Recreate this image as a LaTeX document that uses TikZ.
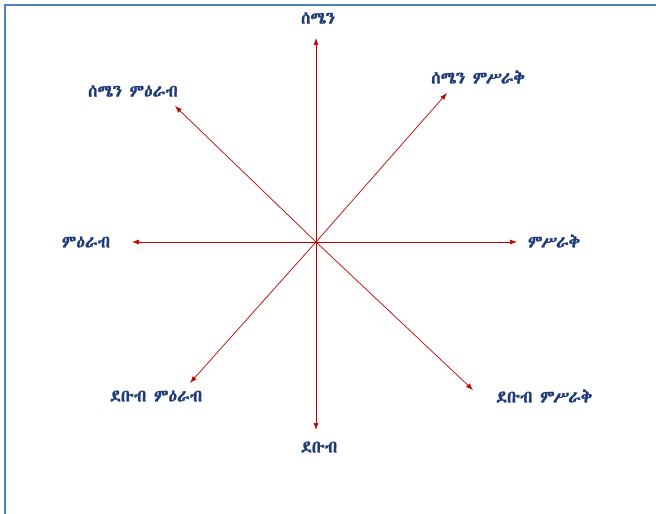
\documentclass[tikz,border=0pt]{standalone}
\usepackage{fontspec}
\IfFontExistsTF{Abyssinica SIL}
  {\newfontfamily\ethfont{Abyssinica SIL}[FakeBold=1.3]}
  {\IfFontExistsTF{FreeSerif}
    {\newfontfamily\ethfont{FreeSerif}[FakeBold=1.3]}
    {\IfFontExistsTF{Noto Sans Ethiopic}
      {\newfontfamily\ethfont{Noto Sans Ethiopic}[FakeBold=1.3]}
      {\newfontfamily\ethfont{DejaVu Sans}}}}
\usetikzlibrary{positioning,arrows.meta}
\definecolor{dirred}{HTML}{C00000}
\definecolor{labblue}{HTML}{1F3A78}
\definecolor{frameblue}{HTML}{4F81BD}

\begin{document}
\begin{tikzpicture}[
  x=1pt, y=-1pt,
  lab/.style={font=\ethfont\fontsize{17}{19}\selectfont, text=labblue, inner sep=1pt},
  arr/.style={-{Latex[length=7pt,width=5pt]}, dirred, line width=0.7pt}
]
\useasboundingbox (0,0) rectangle (656,514);
% --- frame ---------------------------------------------------------------
\draw[frameblue, line width=1.6pt] (5,514) -- (5,5) -- (656,5);
% --- centre and arrow tips ----------------------------------------------
\coordinate (c)   at (316,242);
\coordinate (tn)  at (316,38);
\coordinate (tne) at (447,93);
\coordinate (te)  at (517,242);
\coordinate (tse) at (473,390);
\coordinate (ts)  at (316,430);
\coordinate (tsw) at (190,383);
\coordinate (tw)  at (132,242);
\coordinate (tnw) at (175,106);
% --- arrows --------------------------------------------------------------
\foreach \t in {tn,tne,te,tse,ts,tsw,tw,tnw}
  \draw[arr] (c) -- (\t);
% --- labels --------------------------------------------------------------
\node[lab] (n)  at (318,18)  {ሰሜን};
\node[lab] (ne) at (478,77)  {ሰሜን ምሥራቅ};
\node[lab] (e)  at (554,241) {ምሥራቅ};
\node[lab] (se) at (544,396) {ደቡብ ምሥራቅ};
\node[lab] (s)  at (319,447) {ደቡብ};
\node[lab] (sw) at (156,396) {ደቡብ ምዕራብ};
\node[lab] (w)  at (86,242)  {ምዕራብ};
\node[lab] (nw) at (133,91)  {ሰሜን ምዕራብ};
\end{tikzpicture}
\end{document}
